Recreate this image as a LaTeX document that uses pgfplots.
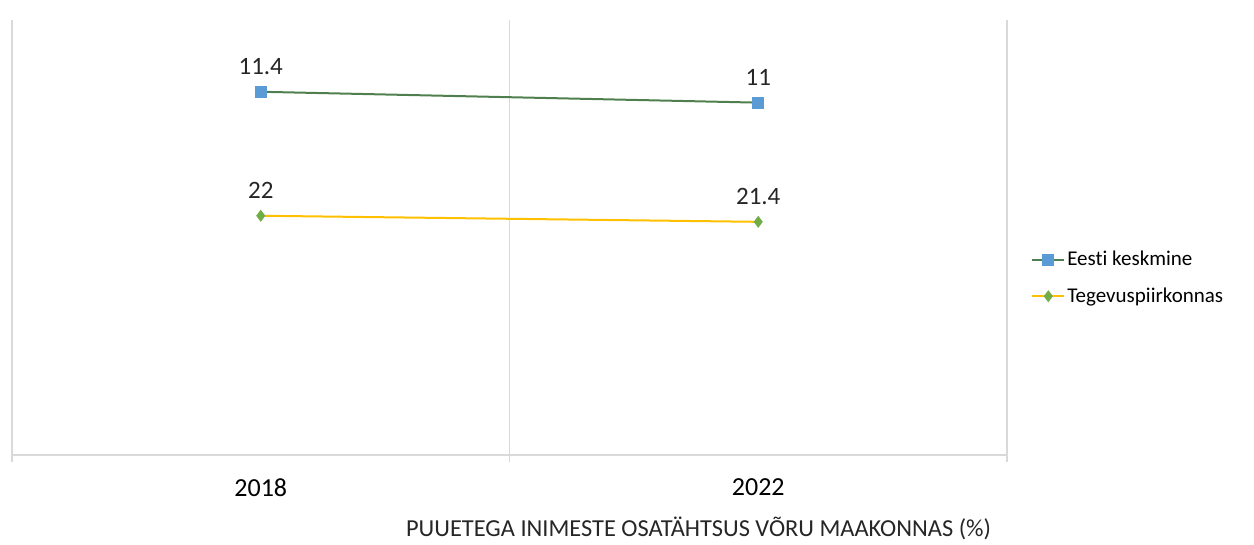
\documentclass[border=0pt]{standalone}
\usepackage{fontspec}
\setmainfont{Carlito}[Ligatures=NoCommon]
\usepackage{pgfplots}
\pgfplotsset{compat=1.18}
\definecolor{eblue}{HTML}{5B9BD5}
\definecolor{egreen}{HTML}{4F7F4F}
\definecolor{tgold}{HTML}{FFC000}
\definecolor{tgreen}{HTML}{70AD47}
\definecolor{gridgray}{HTML}{D9D9D9}
\begin{document}
\begin{tikzpicture}
% 1 px of the reference = 0.5pt
\useasboundingbox (-6pt,-45pt) rectangle (621pt,227.5pt);
\begin{axis}[
  at={(0,0)},anchor=south west,
  scale only axis,
  width=497.5pt,height=217.5pt,
  xmin=-0.5,xmax=1.5,ymin=0,ymax=100,
  axis x line*=bottom,axis y line=none,
  axis line style={draw=gridgray,line width=0.8pt,-},
  xtick={0,1},xticklabels={2018,2022},
  major tick length=0pt,
  extra x ticks={-0.5,0.5,1.5},
  extra x tick labels={},
  extra x tick style={grid=major,major tick length=3.5pt,tick align=outside,
    tick style={draw=gridgray,line width=0.8pt}},
  grid style={draw=gridgray,line width=0.7pt},
  ytick=\empty,
  /pgf/number format/assume math mode=true,
  xticklabel style={font=\fontsize{13}{15}\selectfont,anchor=center,yshift=-16.25pt},
  clip=false,
  nodes near coords,
  point meta=explicit symbolic,
  every node near coord/.append style={font=\fontsize{12.5}{15}\selectfont,anchor=center,yshift=12.5pt,text=black!85},
  legend style={draw=none,fill=none,at={(1.018,0.407)},anchor=west,
    font=\fontsize{10.5}{12.5}\selectfont,row sep=7.5pt,
    nodes={inner sep=1pt}},
  legend cell align=left,
  legend image code/.code={\draw[mark repeat=2,mark phase=2] plot coordinates {(0pt,0pt)(8pt,0pt)(16pt,0pt)};},
]
% Eesti keskmine
\addplot[egreen,line width=1pt,mark=square*,mark size=2.5pt,
  mark options={draw=eblue,fill=eblue}] coordinates {(0,83.5)[11.4] (1,81.0)[11]};
% Tegevuspiirkonnas
\addplot[tgold,line width=1pt,mark=diamond*,mark size=2.2pt,
  mark options={draw=tgreen,fill=tgreen}] coordinates {(0,55.0)[22] (1,53.6)[21.4]};
\legend{Eesti keskmine,Tegevuspiirkonnas}
\node[font=\fontsize{12.2}{14}\selectfont,text=black!85,anchor=center]
  at (rel axis cs:0.690,-0.168) {PUUETEGA INIMESTE OSATÄHTSUS VÕRU MAAKONNAS (\%)};
\end{axis}
\end{tikzpicture}
\end{document}
